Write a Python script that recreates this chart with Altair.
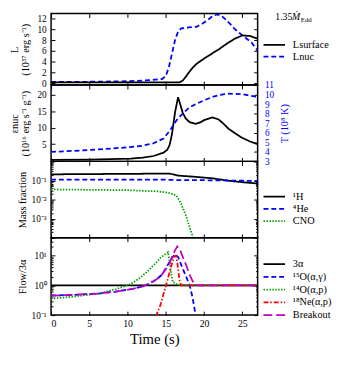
import altair as alt
import pandas as pd

FONT = "Liberation Serif"
BLUE = "#0000ff"
GREEN = "#00a000"
RED = "#ff0000"
MAG = "#c000c0"

# ---------------- data ----------------
# Panel 1: luminosity (1e37 erg/s)
t_lsurf = [0, 16.8, 17.2, 17.6, 18.0, 18.5, 19, 19.5, 20, 21, 22, 23, 24, 25, 26, 27]
v_lsurf = [0.2, 0.2, 0.5, 1.2, 2.0, 2.9, 3.6, 4.1, 4.6, 5.5, 6.4, 7.4, 8.3, 8.9, 8.8, 8.3]
t_lnuc = [0, 5, 10, 13, 14.5, 15.0, 15.4, 15.8, 16.2, 16.6, 17.0, 18, 19, 19.8, 20.5,
          21.1, 21.7, 22.3, 22.8, 23.5, 24.0, 25.1, 26.2, 27]
v_lnuc = [0.25, 0.3, 0.4, 0.6, 0.8, 1.4, 3.0, 5.5, 8.0, 9.6, 10.2, 10.4, 10.5, 11.1, 11.8,
          12.5, 12.8, 12.5, 11.9, 10.9, 10.1, 8.8, 7.6, 6.1]

# Panel 2: eps_nuc (1e16 erg/s/g) and T (1e8 K)
t_eps = [0, 5, 10.4, 12, 13.4, 14.7, 15.2, 15.5, 15.8, 16.2, 16.6, 16.9, 17.2, 17.6, 18.1,
         18.9, 19.5, 20, 21.1, 21.9, 22.5, 23.2, 24, 24.9, 26, 27]
v_eps = [0.2, 0.3, 0.6, 0.9, 1.4, 2.4, 3.3, 4.8, 8.0, 14.6, 19.3, 17.0, 14.6, 12.8, 11.7,
         11.2, 11.6, 12.3, 13.1, 12.5, 11.3, 9.7, 8.4, 7.0, 5.8, 5.0]
t_T = [0, 3, 6.2, 10.4, 12, 13.4, 14.7, 15.5, 16.4, 17.2, 18, 18.9, 20, 21.1, 22, 23.2, 24.9, 26, 27]
v_T = [4.0, 4.1, 4.25, 4.5, 4.65, 4.9, 5.4, 6.2, 7.3, 8.0, 8.6, 9.0, 9.4, 9.75, 9.95, 10.1, 10.05, 9.9, 9.75]

# Panel 3: mass fractions
t_h1 = [0, 8, 15.5, 16.6, 18.9, 21.1, 23.2, 24.9, 27]
v_h1 = [0.21, 0.22, 0.23, 0.18, 0.155, 0.13, 0.097, 0.082, 0.069]
t_he4 = [0, 15, 16.5, 20, 24, 27]
v_he4 = [0.11, 0.11, 0.105, 0.103, 0.098, 0.095]
t_cno = [0, 10, 14, 15.5, 16.4, 17.0, 17.7, 18.1, 18.5, 18.8]
v_cno = [0.034, 0.031, 0.027, 0.022, 0.016, 0.006, 0.0012, 0.00038, 0.00012, 0.00005]

# Panel 4: flow / 3alpha
t_3a = [0, 27]
v_3a = [1.0, 1.0]
t_o15 = [0, 3, 6.2, 8.5, 10.4, 12, 13, 13.8, 14.5, 15.3, 15.8, 16.2, 16.6, 17.0, 17.4,
         17.8, 18.1, 18.4, 18.7, 18.9]
v_o15 = [0.45, 0.48, 0.53, 0.62, 0.74, 0.92, 1.2, 1.6, 2.3, 5.1, 8.5, 11, 9, 5, 2.8,
         1.6, 1.0, 0.5, 0.2, 0.09]
t_o14 = [0, 3, 6.2, 8.5, 10.4, 11.5, 12.6, 13.0, 13.8, 14.3, 14.9, 15.3, 15.5, 15.7, 15.9,
         16.4, 17, 27]
v_o14 = [0.36, 0.42, 0.53, 0.75, 1.1, 1.7, 2.9, 3.8, 6.0, 8.5, 11, 13, 6, 2.5, 1.3,
         1.1, 1.0, 1.0]
t_ne18 = [13.7, 14.3, 14.9, 15.3, 15.6, 15.9, 16.1, 16.3, 16.5, 16.6, 16.8, 17.0, 27]
v_ne18 = [0.09, 0.22, 0.78, 1.8, 3.5, 6.5, 9.5, 10, 6, 3.5, 1.5, 1.0, 1.0]
t_brk = [0, 3, 6.2, 8.5, 10.4, 12, 13, 13.8, 14.5, 15.1, 15.5, 15.8, 16.2, 16.5, 16.8,
         17.3, 17.7, 18.1, 18.5, 18.8, 19.2, 27]
v_brk = [0.45, 0.48, 0.53, 0.62, 0.74, 0.92, 1.2, 1.6, 2.3, 3.8, 5.5, 9, 15, 20.5, 17,
         8, 4.5, 2.3, 1.4, 1.05, 1.0, 1.0]

names1 = ["Lsurface", "Lnuc"]
names3 = ["¹H", "⁴He", "CNO"]
names4 = ["3α", "¹⁵O(α,γ)", "¹⁴O(α,p)", "¹⁸Ne(α,p)", "Breakout"]
x_ticks = [0, 5, 10, 15, 20, 25]

# ---------------- layout constants ----------------
W = 211
H1, H2, H3, H4 = 73, 78, 78, 79
LW = 1.8
XS = alt.Scale(domain=[0, 27], nice=False, zero=False)
SOLID, DASH, DOT, DASHDOT, LONG = [1, 0], [5, 3], [1.5, 1.5], [5, 2, 1.5, 2], [9, 4]


def long_df(series):
    rows = []
    for name, ts, vs in series:
        rows += [{"s": name, "t": a, "v": b} for a, b in zip(ts, vs)]
    return pd.DataFrame(rows)


def ghost(df, ysc, xaxis=None, yaxis=None):
    return alt.Chart(df).mark_point(opacity=0, size=1).encode(
        x=alt.X("t:Q", scale=XS, axis=xaxis),
        y=alt.Y("v:Q", scale=ysc, axis=yaxis),
    )


def xtick(orient, H):
    return alt.Axis(orient=orient, offset=-H, values=x_ticks, labels=False, domain=False,
                    ticks=True, tickSize=4, tickWidth=1, tickColor="black", grid=False, title=None)


def ytick(orient, vals, size=4):
    return alt.Axis(orient=orient, offset=-W, values=vals, labels=False, domain=False,
                    ticks=True, tickSize=size, tickWidth=1, tickColor="black", grid=False, title=None)


def ylab(vals, title, tpad, expr=None, orient="left", color="black", angle=None, lpad=5, tbase=None):
    kw = dict(orient=orient, values=vals, ticks=False, tickSize=0, domain=False, grid=False,
              labelFont=FONT, labelFontSize=9.5, labelColor=color, labelPadding=lpad,
              title=title, titleFont=FONT, titleFontSize=10.5, titleFontWeight="normal",
              titleColor=color, titlePadding=tpad, titleLineHeight=11)
    if expr:
        kw["labelExpr"] = expr
    if angle is not None:
        kw["titleAngle"] = angle
    if tbase is not None:
        kw["titleBaseline"] = tbase
    return alt.Axis(**kw)


def frame_layers(df, ysc, H, ymaj, ymin, labvals, title, tpad, expr=None, bottom=False, right=True):
    layers = [
        ghost(df, ysc, xaxis=xtick("bottom", H)),
        ghost(df, ysc, xaxis=xtick("top", H)),
        ghost(df, ysc, yaxis=ytick("right", ymaj, 4)),
        ghost(df, ysc, yaxis=ylab(labvals, title, tpad, expr)),
    ]
    if right:
        layers.append(ghost(df, ysc, yaxis=ytick("left", ymaj, 4)))
    if ymin:
        layers.append(ghost(df, ysc, yaxis=ytick("right", ymin, 2)))
        if right:
            layers.append(ghost(df, ysc, yaxis=ytick("left", ymin, 2)))
    if bottom:
        layers.append(ghost(df, ysc, xaxis=alt.Axis(
            orient="bottom", values=x_ticks, ticks=False, tickSize=0, domain=False, grid=False,
            labelFont=FONT, labelFontSize=10, labelColor="black", labelPadding=4,
            title="Time (s)", titleFont=FONT, titleFontSize=15, titleFontWeight="normal",
            titleColor="black", titlePadding=3)))
    return layers


def legend(x, y, rowpad):
    return alt.Legend(orient="none", legendX=x, legendY=y, title=None,
                      symbolType="M-1,0H3.4", symbolSize=100, symbolStrokeWidth=LW,
                      labelFont=FONT, labelFontSize=10.5, labelColor="black",
                      labelOffset=19, rowPadding=rowpad, padding=0)


def lines(df, names, colors, dashes, ysc, leg):
    return alt.Chart(df).mark_line(strokeWidth=LW, clip=True).encode(
        x=alt.X("t:Q", scale=XS, axis=None),
        y=alt.Y("v:Q", scale=ysc, axis=None),
        color=alt.Color("s:N", scale=alt.Scale(domain=names, range=colors), legend=leg, sort=names),
        strokeDash=alt.StrokeDash("s:N", scale=alt.Scale(domain=names, range=dashes), legend=leg, sort=names),
    )


def log_minor(lo_exp, hi_exp, top):
    out = []
    for e in range(lo_exp, hi_exp + 1):
        for k in range(2, 10):
            v = k * 10.0 ** e
            if v <= top:
                out.append(v)
    return out


# ---------------- panel 1 ----------------
df1 = long_df([(names1[1], t_lnuc, v_lnuc), (names1[0], t_lsurf, v_lsurf)])
ys1 = alt.Scale(domain=[-0.31, 12.96], nice=False, zero=False)
y1v = [0, 2, 4, 6, 8, 10, 12]
ann_df = pd.DataFrame({"a": [0]})
ann1 = alt.Chart(ann_df).mark_text(text="1.35", font=FONT, fontSize=10, align="left",
                                   baseline="middle", color="black").encode(
    x=alt.value(W + 18), y=alt.value(4))
ann1b = alt.Chart(ann_df).mark_text(text="Ṁ", font=FONT, fontSize=10, fontStyle="italic",
                                    align="left", baseline="middle", color="black").encode(
    x=alt.value(W + 35), y=alt.value(4))
ann2 = alt.Chart(ann_df).mark_text(text="Edd", font=FONT, fontSize=7, align="left",
                                   baseline="middle", color="black").encode(
    x=alt.value(W + 44), y=alt.value(7))
p1 = alt.layer(
    lines(df1, names1, ["black", BLUE], [SOLID, DASH], ys1, legend(216, 26, 0)),
    *frame_layers(df1, ys1, H1, y1v, None, y1v, ["L", "(10³⁷ erg s⁻¹)"], 7),
    ann1, ann1b, ann2,
).resolve_axis(x="independent", y="independent").properties(width=W, height=H1)

# ---------------- panel 2 ----------------
df_eps = long_df([("eps", t_eps, v_eps)])
df_T = long_df([("T", t_T, v_T)])
ys_eps = alt.Scale(domain=[-0.24, 22.98], nice=False, zero=False)
ys_T = alt.Scale(domain=[3, 11], nice=False, zero=False)
y2v = [5, 10, 15, 20]
Tv = [3, 4, 5, 6, 7, 8, 9, 10, 11]
eps_line = alt.Chart(df_eps).mark_line(color="black", strokeWidth=LW, clip=True).encode(
    x=alt.X("t:Q", scale=XS, axis=None), y=alt.Y("v:Q", scale=ys_eps, axis=None))
eps_group = alt.layer(
    eps_line,
    *frame_layers(df_eps, ys_eps, H2, y2v, None, y2v, ["εnuc", "(10¹⁶ erg s⁻¹ g⁻¹)"], 7, right=False),
).resolve_axis(x="independent", y="independent")
T_line = alt.Chart(df_T).mark_line(color=BLUE, strokeWidth=LW, strokeDash=DASH, clip=True).encode(
    x=alt.X("t:Q", scale=XS, axis=None), y=alt.Y("v:Q", scale=ys_T, axis=None))
T_group = alt.layer(
    T_line,
    ghost(df_T, ys_T, yaxis=ytick("left", Tv, 4)),
    ghost(df_T, ys_T, yaxis=ylab(Tv, "T (10⁸ K)", 6, orient="right", color=BLUE, angle=270,
                                 lpad=7, tbase="top")),
).resolve_axis(x="independent", y="independent")
p2 = alt.layer(eps_group, T_group).resolve_scale(y="independent").resolve_axis(
    x="independent", y="independent").properties(width=W, height=H2)

# ---------------- panel 3 ----------------
df3 = long_df([(names3[0], t_h1, v_h1), (names3[1], t_he4, v_he4), (names3[2], t_cno, v_cno)])
ys3 = alt.Scale(type="log", domain=[1e-4, 1], nice=False)
y3maj = [1e-4, 1e-3, 1e-2, 1e-1, 1]
y3lab = [1e-3, 1e-2, 1e-1]
expr3 = "datum.value < 0.005 ? '10⁻³' : datum.value < 0.05 ? '10⁻²' : '10⁻¹'"
p3 = alt.layer(
    lines(df3, names3, ["black", BLUE, GREEN], [SOLID, DASH, DOT], ys3, legend(216, 30, 0.5)),
    *frame_layers(df3, ys3, H3, y3maj, log_minor(-4, -1, 1), y3lab, "Mass fraction", 4, expr3),
).resolve_axis(x="independent", y="independent").properties(width=W, height=H3)

# ---------------- panel 4 ----------------
df4 = long_df([(names4[0], t_3a, v_3a), (names4[1], t_o15, v_o15), (names4[2], t_o14, v_o14),
               (names4[3], t_ne18, v_ne18), (names4[4], t_brk, v_brk)])
ys4 = alt.Scale(type="log", domain=[0.1, 40], nice=False)
y4maj = [0.1, 1, 10]
expr4 = "datum.value < 0.5 ? '10⁻¹' : datum.value < 5 ? '10⁰' : '10¹'"
p4 = alt.layer(
    lines(df4, names4, ["black", BLUE, GREEN, RED, MAG], [SOLID, DASH, DOT, DASHDOT, LONG], ys4,
          legend(216, 21, 1)),
    *frame_layers(df4, ys4, H4, y4maj, log_minor(-1, 1, 40), y4maj, "Flow/3α", 4, expr4, bottom=True),
).resolve_axis(x="independent", y="independent").properties(width=W, height=H4)

chart = alt.vconcat(p1, p2, p3, p4, spacing=0, bounds="flush").resolve_scale(
    color="independent", strokeDash="independent"
).properties(padding=0, background="white").configure_view(stroke="black", strokeWidth=1.5)

chart.save("out.html", embed_options={"renderer": "svg", "actions": False})
